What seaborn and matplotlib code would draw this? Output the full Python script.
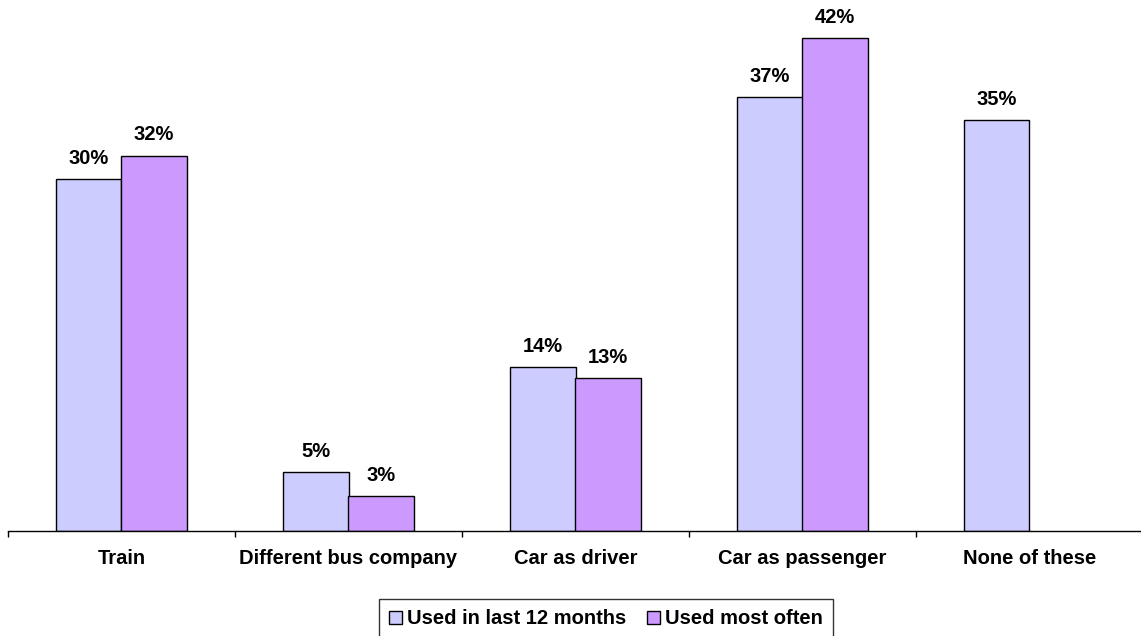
import matplotlib
matplotlib.use("Agg")
import matplotlib.pyplot as plt
from matplotlib.ticker import FixedLocator
import seaborn as sns
import pandas as pd
import numpy as np

categories = ["Train", "Different bus company", "Car as driver",
              "Car as passenger", "None of these"]
series_names = ["Used in last 12 months", "Used most often"]
last_12_months = [30, 5, 14, 37, 35]
most_often = [32, 3, 13, 42, np.nan]
colors = ["#CCCCFF", "#CC99FF"]

df = pd.DataFrame({
    "mode": categories * 2,
    "series": [series_names[0]] * len(categories) + [series_names[1]] * len(categories),
    "value": last_12_months + most_often,
})

sns.set_theme(style="white")
plt.rcParams["font.family"] = ["Liberation Sans", "DejaVu Sans"]
plt.rcParams["text.color"] = "black"
plt.rcParams["xtick.color"] = "black"

FS = 14.5
W, H = 1141, 636
fig = plt.figure(figsize=(W / 100, H / 100), dpi=100)
ax = fig.add_axes([8 / W, (H - 531) / H, 1135 / W, 528 / H])

sns.barplot(data=df, x="mode", y="value", hue="series", order=categories,
            hue_order=series_names, palette=colors, width=0.573,
            edgecolor="black", linewidth=1, errorbar=None, ax=ax,
            saturation=1)

for cont in ax.containers:
    ax.bar_label(cont, fmt="%.0f%%", padding=8, fontsize=FS,
                 fontweight="bold", color="black")

ax.set_xlim(-0.5, 4.5)
ax.set_ylim(0, 45)
ax.set_xlabel("")
ax.set_ylabel("")
ax.set_yticks([])
for side in ["top", "right", "left"]:
    ax.spines[side].set_visible(False)
ax.spines["bottom"].set_color("black")
ax.spines["bottom"].set_linewidth(1)

ax.tick_params(axis="x", which="major", length=0, pad=13, labelsize=FS,
               labelcolor="black")
for lbl in ax.get_xticklabels():
    lbl.set_fontweight("bold")
ax.xaxis.set_minor_locator(FixedLocator(np.arange(-0.5, 5, 1)))
ax.tick_params(axis="x", which="minor", bottom=True, length=4, width=1,
               color="black", direction="out")

leg = ax.legend(loc="center", bbox_to_anchor=(606 / W, (H - 619) / H),
                bbox_transform=fig.transFigure, ncol=2, frameon=True,
                fancybox=False, edgecolor="black", fontsize=FS,
                handlelength=0.65, handleheight=0.65, handletextpad=0.25,
                columnspacing=1.05, borderpad=0.5, borderaxespad=0)
leg.get_frame().set_linewidth(1)
for t in leg.get_texts():
    t.set_fontweight("bold")
    t.set_color("black")
for h in leg.legend_handles:
    h.set_edgecolor("black")
    h.set_linewidth(1)

fig.savefig("out.png", dpi=100)
